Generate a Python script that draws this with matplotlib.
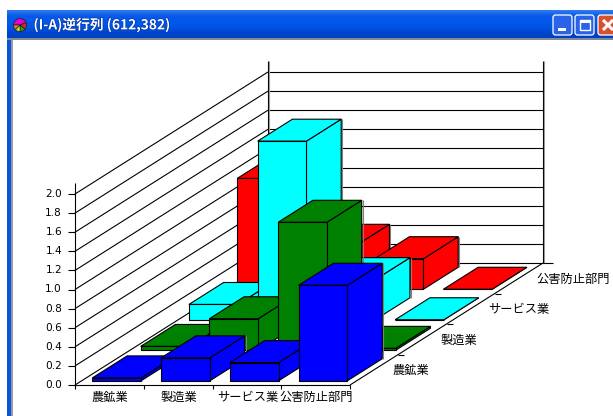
import numpy as np
import matplotlib
matplotlib.use("Agg")
import matplotlib.pyplot as plt
from matplotlib.patches import Polygon, Wedge, Rectangle, FancyBboxPatch
from matplotlib.colors import LinearSegmentedColormap
import matplotlib.patheffects as pe

plt.rcParams['font.family'] = ['Noto Sans CJK JP', 'DejaVu Sans']

# ---- data ----
title = "(I-A)逆行列 (612,382)"
categories = ["農鉱業", "製造業", "サービス業", "公害防止部門"]
series_names = ["農鉱業", "製造業", "サービス業", "公害防止部門"]
series_colors = ["#0000ff", "#008000", "#00ffff", "#ff0000"]
blue_values = [0.03, 0.24, 0.19, 1.00]
green_values = [0.04, 0.33, 1.34, 0.02]
cyan_values = [0.16, 1.87, 0.42, 0.00]
red_values = [1.16, 0.45, 0.32, 0.00]
rows = [blue_values, green_values, cyan_values, red_values]
value_ticks = [0.0, 0.2, 0.4, 0.6, 0.8, 1.0, 1.2, 1.4, 1.6, 1.8, 2.0]

# ---- oblique projection (category, depth, value) -> pixels ----
X0, Y0 = 75.0, 385.0
DX_CAT = 68.75
DX_DEP, DY_DEP = 48.25, 30.5
DY_VAL = 95.5
TOP_VAL = 2.115


def proj(c, d, v=0.0):
    return (X0 + c * DX_CAT + d * DX_DEP, Y0 - d * DY_DEP - v * DY_VAL)


fig = plt.figure(figsize=(6.13, 4.16), dpi=100, facecolor="white")
ax = fig.add_axes([0, 0, 1, 1])
ax.set_axis_off()

# ---- window chrome ----
grad = LinearSegmentedColormap.from_list(
    "tb", ["#2f7cf0", "#0a5ae6", "#0058ee", "#0054e3", "#0046cf", "#0040c0"])
ax.imshow(np.linspace(0, 1, 64)[:, None], cmap=grad, aspect="auto",
          extent=(7, 613, 38, 10), zorder=1)
ax.add_patch(Rectangle((7, 38), 4, 378, fc="#0a55e0", ec="none", zorder=1))
ax.add_patch(Rectangle((7, 38), 606, 2, fc="#7f8a9a", ec="none", zorder=1))
ax.add_patch(Rectangle((11, 40), 1.5, 376, fc="#9a9a9a", ec="none", zorder=1))
ax.set_xlim(0, 613)
ax.set_ylim(416, 0)

# title icon
for a, b, col in [(180, 340, "#e000d0"), (340, 400, "#e02020"),
                  (40, 90, "#20a020"), (90, 135, "#e0e020"), (135, 180, "#e08020")]:
    ax.add_patch(Wedge((20, 25), 6.5, a, b, fc=col, ec="#202020", lw=0.5, zorder=3))
ax.text(33.5, 25, title, color="white", fontsize=9.9, fontweight="bold",
        va="center", ha="left", zorder=4,
        path_effects=[pe.withStroke(linewidth=0.8, foreground="#0030a0")])

# window buttons
for x0, w, fc in [(553, 19, "#2a62e8"), (575, 19, "#2a62e8"), (598, 19, "#d8502c")]:
    ax.add_patch(FancyBboxPatch((x0, 15), w, 20, boxstyle="round,pad=0,rounding_size=2.5",
                                fc=fc, ec="white", lw=0.9, zorder=3))
ax.add_patch(Rectangle((558, 28), 8, 3, fc="white", ec="none", zorder=4))
ax.add_patch(Rectangle((580, 20), 10, 10, fc="none", ec="white", lw=1.0, zorder=4))
ax.add_patch(Rectangle((580, 20), 10, 2.5, fc="white", ec="none", zorder=4))
ax.plot([603, 613], [20, 30], color="white", lw=2.2, zorder=4, solid_capstyle="butt")
ax.plot([603, 613], [30, 20], color="white", lw=2.2, zorder=4, solid_capstyle="butt")

LW = 0.8
GRID = dict(color="black", lw=LW, zorder=5, solid_capstyle="butt")


def seg(p, q, **kw):
    style = dict(GRID)
    style.update(kw)
    ax.plot([p[0], q[0]], [p[1], q[1]], **style)


# ---- walls ----
n_cat = len(categories)
n_dep = len(series_names)
for v in value_ticks:
    seg(proj(0, 0, v), proj(0, n_dep, v))
    seg(proj(0, n_dep, v), proj(n_cat, n_dep, v))
    seg((proj(0, 0, v)[0] - 7, proj(0, 0, v)[1]), proj(0, 0, v))
    ax.text(proj(0, 0, v)[0] - 13, proj(0, 0, v)[1], f"{v:.1f}", family="DejaVu Sans",
            fontsize=7.6, ha="right", va="center", color="#000000", zorder=6)
seg(proj(0, 0, 0), proj(0, 0, TOP_VAL))
seg(proj(0, n_dep, 0), proj(0, n_dep, TOP_VAL))
seg((proj(0, n_dep, 0)[0] + 1, proj(0, n_dep, 0)[1]),
    (proj(0, n_dep, TOP_VAL)[0] + 1, proj(0, n_dep, TOP_VAL)[1]), color="#999999")
seg(proj(n_cat, n_dep, 0), proj(n_cat, n_dep, TOP_VAL))
seg((proj(n_cat, n_dep, 0)[0] + 1, proj(n_cat, n_dep, 0)[1]),
    (proj(n_cat, n_dep, TOP_VAL)[0] + 1, proj(n_cat, n_dep, TOP_VAL)[1]), color="#999999")

# ---- bars, back row to front row ----
GAP_C, W_C = 0.155, 0.71
GAP_D, W_D = 0.14, 0.72
zb = 10
for j in range(n_dep - 1, -1, -1):
    for i in range(n_cat):
        v = rows[j][i]
        col = series_colors[j]
        c0, c1 = i + GAP_C, i + GAP_C + W_C
        d0, d1 = j + GAP_D, j + GAP_D + W_D
        faces = [
            [proj(c1, d0, 0), proj(c1, d1, 0), proj(c1, d1, v), proj(c1, d0, v)],
            [proj(c0, d0, v), proj(c1, d0, v), proj(c1, d1, v), proj(c0, d1, v)],
            [proj(c0, d0, 0), proj(c1, d0, 0), proj(c1, d0, v), proj(c0, d0, v)],
        ]
        if v > 0.05:
            p, q = proj(c1, d1, 0), proj(c1, d1, v)
            seg((p[0] + 1, p[1]), (q[0] + 1, q[1]), color="#808080", zorder=zb)
        for f in faces:
            ax.add_patch(Polygon(f, closed=True, fc=col, ec="black", lw=LW,
                                 joinstyle="miter", zorder=zb))
        zb += 1

# ---- floor axes and tick marks ----
TOPZ = zb + 1
seg(proj(0, 0), proj(n_cat, 0), zorder=TOPZ)
seg(proj(n_cat, 0), proj(n_cat, n_dep), zorder=TOPZ)
seg(proj(n_cat, n_dep), (proj(n_cat, n_dep)[0] + 10, proj(n_cat, n_dep)[1]), zorder=TOPZ)
for i in range(n_cat + 1):
    p = proj(i, 0)
    seg(p, (p[0], p[1] + 4), zorder=TOPZ)
for j in range(1, n_dep):
    p = proj(n_cat, j)
    seg(p, (p[0] + 6, p[1]), zorder=TOPZ)
for i, name in enumerate(categories):
    p = proj(i + 0.5, 0)
    ax.text(p[0] + 1, p[1] + 12, name, fontsize=8.8, ha="center", va="center",
            color="#000000", zorder=TOPZ)
for j, name in enumerate(series_names):
    p = proj(n_cat, j + 0.5)
    ax.text(p[0] + 18, p[1] + 1, name, fontsize=8.8, ha="left", va="center",
            color="#000000", zorder=TOPZ)

fig.savefig("out.png", dpi=100, facecolor="white")
